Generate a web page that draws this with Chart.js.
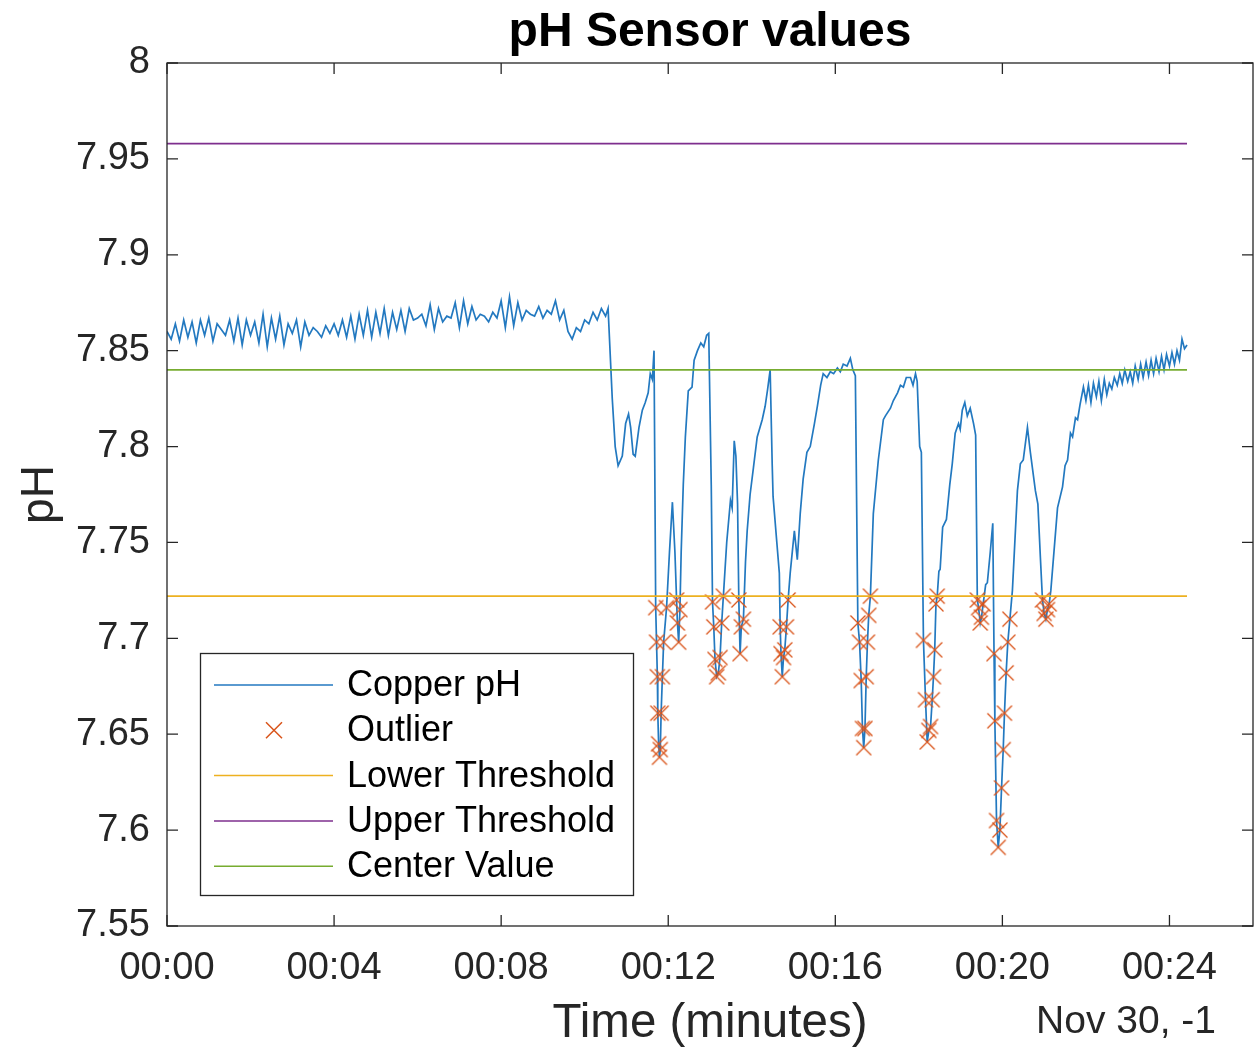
<!DOCTYPE html>
<html>
<head>
<meta charset="utf-8">
<title>pH Sensor values</title>
<script src="https://cdn.jsdelivr.net/npm/chart.js@4.4.1/dist/chart.umd.min.js"></script>
<style>
  html, body { margin: 0; padding: 0; background: #fff; }
  #phChart { display: block; }
</style>
</head>
<body>
<canvas id="phChart" width="1258" height="1052"></canvas>
<script>
// Copper pH readings (time in minutes, pH)
const copperTime = [
  0.0, 0.1, 0.2, 0.3, 0.4, 0.5, 0.6, 0.7, 0.8, 0.9, 1.0, 1.1, 1.2, 1.3, 1.4, 1.5, 1.6, 1.7, 1.8, 1.9,
  2.0, 2.1, 2.2, 2.3, 2.4, 2.5, 2.6, 2.7, 2.8, 2.9, 3.0, 3.1, 3.2, 3.3, 3.4, 3.5, 3.6, 3.7, 3.8, 3.9,
  4.0, 4.1, 4.2, 4.3, 4.4, 4.5, 4.6, 4.7, 4.8, 4.9, 5.0, 5.1, 5.2, 5.3, 5.4, 5.5, 5.6, 5.7, 5.8, 5.9,
  6.0, 6.1, 6.2, 6.3, 6.4, 6.5, 6.6, 6.7, 6.8, 6.9, 7.0, 7.1, 7.2, 7.3, 7.4, 7.5, 7.6, 7.7, 7.8, 7.9,
  8.0, 8.1, 8.2, 8.3, 8.4, 8.5, 8.6, 8.7, 8.8, 8.9, 9.0, 9.1, 9.2, 9.3, 9.4, 9.5, 9.6, 9.7, 9.8, 9.9,
  10.0, 10.1, 10.2, 10.3, 10.4, 10.5, 10.56, 10.66, 10.73, 10.80, 10.90, 10.98, 11.05, 11.10, 11.16, 11.21,
  11.30, 11.38, 11.45, 11.52, 11.57, 11.62, 11.66, 11.70, 11.72, 11.74, 11.75, 11.77, 11.79, 11.81, 11.83, 11.86,
  11.89, 11.96, 12.03, 12.10, 12.16, 12.20, 12.22, 12.25, 12.28, 12.31, 12.36, 12.41, 12.48, 12.57, 12.62, 12.70,
  12.78, 12.85, 12.92, 12.97, 13.03, 13.06, 13.09, 13.12, 13.16, 13.20, 13.24, 13.28, 13.32, 13.40, 13.49, 13.53,
  13.58, 13.62, 13.66, 13.69, 13.72, 13.75, 13.80, 13.85, 13.89, 13.96, 14.04, 14.13, 14.25, 14.32, 14.38, 14.44,
  14.49, 14.51, 14.60, 14.66, 14.68, 14.70, 14.73, 14.76, 14.79, 14.83, 14.87, 14.92, 15.02, 15.09, 15.16, 15.23,
  15.32, 15.40, 15.50, 15.57, 15.65, 15.71, 15.80, 15.88, 15.96, 16.05, 16.12, 16.19, 16.28, 16.36, 16.42, 16.48,
  16.54, 16.58, 16.62, 16.65, 16.68, 16.71, 16.74, 16.77, 16.80, 16.84, 16.91, 17.03, 17.15, 17.20, 17.32, 17.39,
  17.49, 17.56, 17.63, 17.70, 17.80, 17.86, 17.92, 17.96, 18.02, 18.06, 18.11, 18.16, 18.20, 18.24, 18.28, 18.32,
  18.35, 18.38, 18.41, 18.44, 18.48, 18.51, 18.57, 18.66, 18.74, 18.80, 18.87, 18.95, 18.99, 19.04, 19.10, 19.16,
  19.23, 19.31, 19.36, 19.40, 19.43, 19.47, 19.50, 19.54, 19.60, 19.64, 19.71, 19.77, 19.80, 19.82, 19.86, 19.90,
  19.94, 19.98, 20.02, 20.05, 20.09, 20.13, 20.18, 20.24, 20.36, 20.43, 20.50, 20.60, 20.67, 20.79, 20.85, 20.91,
  20.96, 21.00, 21.04, 21.08, 21.12, 21.16, 21.32, 21.44, 21.50, 21.56, 21.63, 21.68, 21.75, 21.80, 21.86, 21.94,
  22.00, 22.06, 22.12, 22.18, 22.25, 22.31, 22.37, 22.44, 22.50, 22.56, 22.62, 22.68, 22.75, 22.81, 22.87, 22.93,
  23.00, 23.06, 23.12, 23.18, 23.25, 23.31, 23.37, 23.44, 23.50, 23.56, 23.62, 23.68, 23.75, 23.81, 23.87, 23.93,
  24.00, 24.06, 24.12, 24.18, 24.24, 24.30, 24.36, 24.42
];
const copperPh = [
  7.860, 7.856, 7.864, 7.855, 7.866, 7.857, 7.865, 7.854, 7.866, 7.858, 7.867, 7.855, 7.864, 7.861, 7.858, 7.866, 7.855, 7.867, 7.853, 7.866,
  7.858, 7.865, 7.854, 7.869, 7.852, 7.867, 7.856, 7.868, 7.853, 7.864, 7.859, 7.866, 7.852, 7.865, 7.858, 7.862, 7.860, 7.857, 7.863, 7.859,
  7.864, 7.858, 7.866, 7.857, 7.868, 7.856, 7.869, 7.858, 7.871, 7.857, 7.870, 7.859, 7.872, 7.858, 7.870, 7.861, 7.871, 7.860, 7.872, 7.866,
  7.867, 7.869, 7.863, 7.874, 7.861, 7.872, 7.865, 7.868, 7.867, 7.875, 7.862, 7.876, 7.864, 7.873, 7.866, 7.869, 7.868, 7.865, 7.870, 7.867,
  7.876, 7.862, 7.878, 7.863, 7.875, 7.866, 7.871, 7.869, 7.868, 7.873, 7.867, 7.871, 7.869, 7.876, 7.866, 7.871, 7.860, 7.856, 7.862, 7.860,
  7.866, 7.864, 7.870, 7.866, 7.872, 7.868, 7.872, 7.825, 7.800, 7.790, 7.795, 7.812, 7.817, 7.810, 7.796, 7.795,
  7.810, 7.819, 7.823, 7.828, 7.838, 7.835, 7.850, 7.716, 7.698, 7.680, 7.661, 7.645, 7.638, 7.642, 7.661, 7.680,
  7.698, 7.716, 7.745, 7.771, 7.745, 7.720, 7.708, 7.698, 7.715, 7.745, 7.780, 7.805, 7.829, 7.831, 7.845, 7.850,
  7.854, 7.852, 7.858, 7.859, 7.780, 7.719, 7.706, 7.689, 7.680, 7.682, 7.690, 7.708, 7.722, 7.750, 7.772, 7.768,
  7.803, 7.795, 7.770, 7.720, 7.692, 7.706, 7.710, 7.740, 7.756, 7.775, 7.789, 7.805, 7.814, 7.821, 7.830, 7.840,
  7.790, 7.774, 7.750, 7.734, 7.706, 7.692, 7.680, 7.690, 7.694, 7.706, 7.720, 7.734, 7.756, 7.741, 7.765, 7.783,
  7.797, 7.800, 7.812, 7.821, 7.832, 7.838, 7.836, 7.839, 7.838, 7.841, 7.839, 7.843, 7.842, 7.846, 7.840, 7.837,
  7.708, 7.698, 7.678, 7.653, 7.643, 7.653, 7.680, 7.698, 7.712, 7.722, 7.765, 7.793, 7.814, 7.816, 7.820, 7.824,
  7.828, 7.832, 7.831, 7.836, 7.836, 7.832, 7.838, 7.834, 7.800, 7.797, 7.699, 7.668, 7.646, 7.652, 7.654, 7.668,
  7.680, 7.694, 7.718, 7.722, 7.735, 7.736, 7.758, 7.762, 7.780, 7.791, 7.807, 7.812, 7.809, 7.819, 7.823, 7.816,
  7.820, 7.812, 7.806, 7.720, 7.716, 7.708, 7.711, 7.718, 7.728, 7.729, 7.745, 7.760, 7.692, 7.657, 7.605, 7.591,
  7.600, 7.622, 7.642, 7.661, 7.682, 7.698, 7.710, 7.725, 7.777, 7.791, 7.793, 7.810, 7.797, 7.777, 7.770, 7.742,
  7.720, 7.713, 7.710, 7.715, 7.718, 7.725, 7.768, 7.779, 7.790, 7.793, 7.807, 7.805, 7.815, 7.814, 7.822, 7.831,
  7.824, 7.832, 7.823, 7.833, 7.826, 7.834, 7.824, 7.835, 7.827, 7.833, 7.830, 7.836, 7.832, 7.838, 7.833, 7.840,
  7.834, 7.839, 7.833, 7.842, 7.835, 7.843, 7.836, 7.844, 7.837, 7.845, 7.838, 7.846, 7.839, 7.847, 7.840, 7.848,
  7.842, 7.849, 7.843, 7.850, 7.845, 7.856, 7.851, 7.853
];

// Samples flagged as outliers
const outlierTime = [
  11.70, 11.72, 11.74, 11.75, 11.77, 11.79, 11.81, 11.83, 11.86, 11.89, 11.96, 12.20, 12.22, 12.25, 12.28,
  13.06, 13.09, 13.12, 13.16, 13.20, 13.24, 13.28, 13.32, 13.69, 13.72, 13.75, 13.80,
  14.68, 14.70, 14.73, 14.76, 14.79, 14.83, 14.87,
  16.54, 16.58, 16.62, 16.65, 16.68, 16.71, 16.74, 16.77, 16.80, 16.84,
  18.11, 18.16, 18.20, 18.24, 18.28, 18.32, 18.35, 18.38, 18.41, 18.44,
  19.40, 19.43, 19.47, 19.50, 19.54,
  19.80, 19.82, 19.86, 19.90, 19.94, 19.98, 20.02, 20.05, 20.09, 20.13, 20.18,
  20.96, 21.00, 21.04, 21.08, 21.12
];
const outlierPh = [
  7.716, 7.698, 7.680, 7.661, 7.645, 7.638, 7.642, 7.661, 7.680, 7.698, 7.716, 7.720, 7.708, 7.698, 7.715,
  7.719, 7.706, 7.689, 7.680, 7.682, 7.690, 7.708, 7.722, 7.720, 7.692, 7.706, 7.710,
  7.706, 7.692, 7.680, 7.690, 7.694, 7.706, 7.720,
  7.708, 7.698, 7.678, 7.653, 7.643, 7.653, 7.680, 7.698, 7.712, 7.722,
  7.699, 7.668, 7.646, 7.652, 7.654, 7.668, 7.680, 7.694, 7.718, 7.722,
  7.720, 7.716, 7.708, 7.711, 7.718,
  7.692, 7.657, 7.605, 7.591, 7.600, 7.622, 7.642, 7.661, 7.682, 7.698, 7.710,
  7.720, 7.713, 7.710, 7.715, 7.718
];

// Reference levels
const lowerThreshold = 7.722;
const upperThreshold = 7.958;
const centerValue = 7.840;
const levelSpan = [0, 24.42];

// Axis ticks
const xTicks = [0, 4, 8, 12, 16, 20, 24];
const yTicks = [7.55, 7.6, 7.65, 7.7, 7.75, 7.8, 7.85, 7.9, 7.95, 8];

const FONT = '"Liberation Sans", Helvetica, Arial, sans-serif';
const INK = '#262626';
const OUTLIER_COLOR = '#D95319';

// 'x' marker as a small canvas, so the layout does not reserve room for big points
const crossMark = document.createElement('canvas');
crossMark.width = 18;
crossMark.height = 18;
(() => {
  const c = crossMark.getContext('2d');
  c.strokeStyle = OUTLIER_COLOR;
  c.lineWidth = 1.3;
  c.beginPath();
  c.moveTo(1.5, 1.5); c.lineTo(16.5, 16.5);
  c.moveTo(1.5, 16.5); c.lineTo(16.5, 1.5);
  c.stroke();
})();

const levelLine = v => levelSpan.map(t => ({ x: t, y: v }));

const datasets = [
  { label: 'Copper pH', data: copperTime.map((t, i) => ({ x: t, y: copperPh[i] })),
    borderColor: '#2379c0', borderWidth: 1.7, pointRadius: 0, order: 5 },
  { type: 'scatter', label: 'Outlier', data: outlierTime.map((t, i) => ({ x: t, y: outlierPh[i] })),
    pointStyle: crossMark, pointRadius: 1, pointBorderWidth: 0,
    borderColor: OUTLIER_COLOR, backgroundColor: OUTLIER_COLOR, order: 4 },
  { label: 'Lower Threshold', data: levelLine(lowerThreshold), borderColor: '#EDB120', borderWidth: 1.7, pointRadius: 0, order: 3 },
  { label: 'Upper Threshold', data: levelLine(upperThreshold), borderColor: '#7E2F8E', borderWidth: 1.7, pointRadius: 0, order: 2 },
  { label: 'Center Value', data: levelLine(centerValue), borderColor: '#77AC30', borderWidth: 1.7, pointRadius: 0, order: 1 }
];

// Box with inward ticks, date stamp and the legend, drawn MATLAB style
const frame = {
  id: 'frame',
  afterDatasetsDraw(chart) {
    const { ctx, chartArea: a, scales: { x, y } } = chart;
    const tl = 11;
    ctx.save();
    ctx.strokeStyle = INK;
    ctx.lineWidth = 1.3;
    ctx.strokeRect(a.left, a.top, a.right - a.left, a.bottom - a.top);
    ctx.beginPath();
    x.ticks.forEach(t => {
      const px = x.getPixelForValue(t.value);
      ctx.moveTo(px, a.bottom); ctx.lineTo(px, a.bottom - tl);
      ctx.moveTo(px, a.top); ctx.lineTo(px, a.top + tl);
    });
    y.ticks.forEach(t => {
      const py = y.getPixelForValue(t.value);
      ctx.moveTo(a.left, py); ctx.lineTo(a.left + tl, py);
      ctx.moveTo(a.right, py); ctx.lineTo(a.right - tl, py);
    });
    ctx.stroke();

    ctx.fillStyle = INK;
    ctx.font = '39px ' + FONT;
    ctx.textAlign = 'right';
    ctx.textBaseline = 'alphabetic';
    ctx.fillText('Nov 30, -1', 1216, 1033);

    // legend
    const box = { left: 200.5, top: 653.5, right: 633.5, bottom: 895.5 };
    ctx.fillStyle = '#fff';
    ctx.fillRect(box.left, box.top, box.right - box.left, box.bottom - box.top);
    ctx.strokeStyle = INK;
    ctx.lineWidth = 1.3;
    ctx.strokeRect(box.left, box.top, box.right - box.left, box.bottom - box.top);
    ctx.font = '36px ' + FONT;
    ctx.textAlign = 'left';
    ctx.textBaseline = 'middle';
    chart.data.datasets.forEach((ds, i) => {
      const cy = 685 + i * 45.3;
      ctx.strokeStyle = ds.borderColor;
      ctx.lineWidth = 1.5;
      ctx.beginPath();
      if (ds.pointStyle === crossMark) {
        const r = 8;
        ctx.moveTo(274 - r, cy - r); ctx.lineTo(274 + r, cy + r);
        ctx.moveTo(274 - r, cy + r); ctx.lineTo(274 + r, cy - r);
      } else {
        ctx.moveTo(214, cy); ctx.lineTo(333, cy);
      }
      ctx.stroke();
      ctx.fillStyle = '#000';
      ctx.fillText(ds.label, 347, cy + 1);
    });
    ctx.restore();
  }
};

new Chart(document.getElementById('phChart'), {
  type: 'line',
  data: { datasets },
  options: {
    responsive: false,
    animation: false,
    layout: { padding: { left: 0, right: 5, top: 0, bottom: 0 } },
    plugins: {
      legend: { display: false },
      tooltip: { enabled: false },
      title: {
        display: true, text: 'pH Sensor values', color: '#000', fullSize: false,
        font: { family: FONT, size: 48, weight: 'bold' }, padding: { top: 4, bottom: 1.4 }
      }
    },
    scales: {
      x: {
        type: 'linear', min: 0, max: 26,
        afterBuildTicks: s => { s.ticks = xTicks.map(v => ({ value: v })); },
        afterFit: s => { s.height = 126; },
        grid: { display: false, drawTicks: false },
        border: { display: false },
        ticks: {
          color: INK, padding: 20, maxRotation: 0, autoSkip: false,
          font: { family: FONT, size: 38 },
          callback: v => '00:' + String(v).padStart(2, '0')
        },
        title: { display: true, text: 'Time (minutes)', color: INK,
          font: { family: FONT, size: 47.5 }, padding: { top: 0, bottom: 0 } }
      },
      y: {
        type: 'linear', min: 7.55, max: 8,
        afterBuildTicks: s => { s.ticks = yTicks.map(v => ({ value: v })); },
        afterFit: s => { s.width = 167; },
        grid: { display: false, drawTicks: false },
        border: { display: false },
        ticks: {
          color: INK, padding: 17,
          font: { family: FONT, size: 38 },
          callback: v => String(Number(v.toFixed(2)))
        },
        title: { display: true, text: 'pH', color: INK,
          font: { family: FONT, size: 46 }, padding: { top: 13, bottom: 0 } }
      }
    }
  },
  plugins: [frame]
});
</script>
</body>
</html>
